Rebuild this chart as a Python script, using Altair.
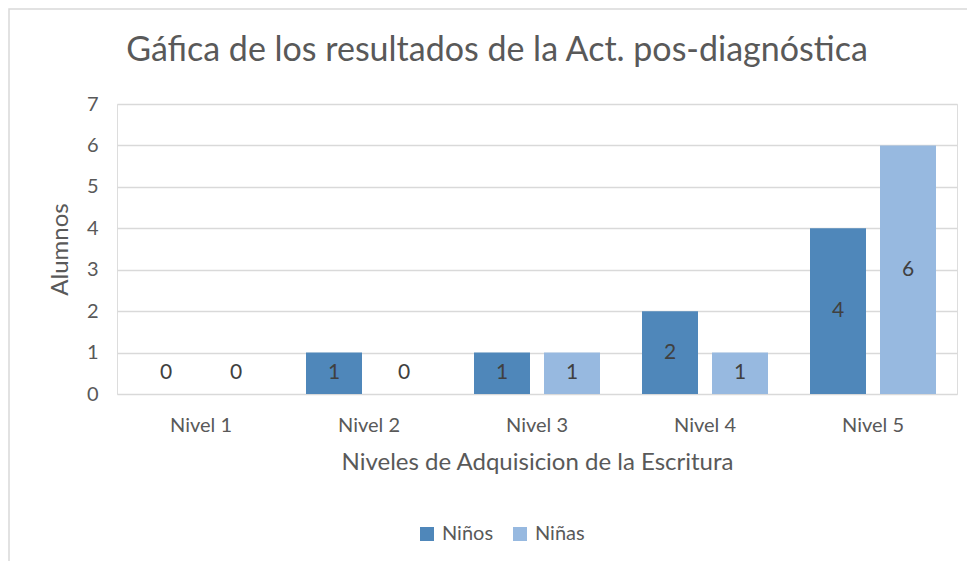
import altair as alt
import pandas as pd

niveles = ["Nivel 1", "Nivel 2", "Nivel 3", "Nivel 4", "Nivel 5"]
ninos = [0, 1, 1, 2, 4]
ninas = [0, 0, 1, 1, 6]
series = ["Niños", "Niñas"]
colors = ["#4F87BA", "#97B9E0"]

rows = []
for i, n in enumerate(niveles):
    rows.append({"nivel": n, "serie": "Niños", "valor": ninos[i]})
    rows.append({"nivel": n, "serie": "Niñas", "valor": ninas[i]})
df = pd.DataFrame(rows)

FONT = "Lato"
W, H = 840, 290

xenc = alt.X("nivel:N", sort=niveles,
             scale=alt.Scale(paddingInner=0.25, paddingOuter=0.125),
             axis=alt.Axis(title="Niveles de Adquisicion de la Escritura", labelAngle=0,
                           labelFontSize=20, labelColor="#595959", labelPadding=21,
                           titleFontSize=24, titleColor="#595959", titlePadding=15,
                           titleFontWeight="normal", ticks=False, domain=False,
                           labelFont=FONT, titleFont=FONT))
xoff = alt.XOffset("serie:N", sort=series, scale=alt.Scale(paddingInner=0.2, paddingOuter=0))

base = alt.Chart(df)

bars = base.mark_bar(size=56).encode(
    x=xenc,
    xOffset=xoff,
    y=alt.Y("valor:Q", scale=alt.Scale(domain=[0, 7], nice=False),
            axis=alt.Axis(title="Alumnos", values=list(range(8)), tickCount=8,
                          labelFontSize=20, labelColor="#595959", labelPadding=19,
                          titleFontSize=24, titleColor="#595959", titlePadding=14,
                          titleFontWeight="normal", ticks=False, domain=False,
                          gridColor="#D9D9D9", gridWidth=1.5,
                          labelFont=FONT, titleFont=FONT)),
    color=alt.Color("serie:N", sort=series,
                    scale=alt.Scale(domain=series, range=colors),
                    legend=alt.Legend(title=None, orient="none", direction="horizontal",
                                      legendX=300, legendY=420, symbolType="square",
                                      symbolSize=196, symbolStrokeWidth=0,
                                      labelFontSize=20, labelColor="#595959",
                                      labelFont=FONT, columnPadding=16, labelOffset=5)),
)

labels = base.mark_text(fontSize=21, color="#404040", font=FONT, baseline="middle").transform_calculate(
    pos="max(datum.valor, 1) / 2"
).encode(
    x=alt.X("nivel:N", sort=niveles),
    xOffset=xoff,
    y=alt.Y("pos:Q"),
    text=alt.Text("valor:Q"),
)

frame = alt.Chart(pd.DataFrame({"a": [0]})).mark_rect(
    fill="transparent", stroke="#D9D9D9", strokeWidth=1.5
).encode(x=alt.value(-108), x2=alt.value(900), y=alt.value(-95), y2=alt.value(500))

chart = alt.layer(frame, bars, labels).properties(
    width=W, height=H,
    title=alt.TitleParams("Gáfica de los resultados de la Act. pos-diagnóstica",
                          fontSize=34, font=FONT, color="#595959", fontWeight="normal",
                          anchor="middle", offset=-60, dx=-40),
    padding={"left": 109, "top": 96, "right": 10, "bottom": 167},
    autosize=alt.AutoSizeParams(type="none"),
).configure_view(stroke="transparent").configure(background="white")

chart.save("out.html", embed_options={"renderer": "svg", "actions": False})
